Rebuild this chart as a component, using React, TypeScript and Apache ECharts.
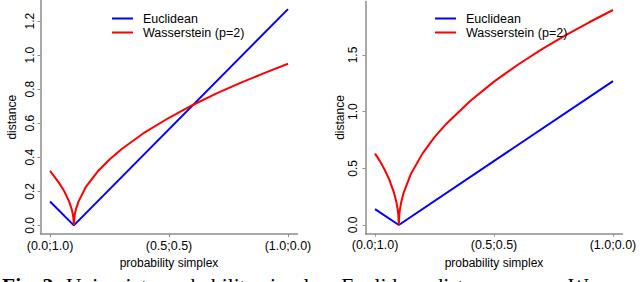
import React, { useEffect, useRef } from "react";
import * as echarts from "echarts";

// probability-simplex positions (first coordinate p of (p;1-p))
const euclidX = [0, 0.1, 1.0];
const euclidLeft = [0.14, 0.0, 1.27];
const euclidRight = [0.14, 0.0, 1.27];

const wassX = [0, 0.02, 0.04, 0.06, 0.08, 0.09, 0.095, 0.098, 0.1, 0.102, 0.105, 0.11, 0.12, 0.15, 0.2, 0.25, 0.3, 0.4, 0.5, 0.6, 0.7, 0.8, 0.9, 1.0];
const wassLeft = [0.32, 0.283, 0.245, 0.2, 0.141, 0.1, 0.071, 0.045, 0.0, 0.045, 0.071, 0.1, 0.141, 0.224, 0.316, 0.387, 0.447, 0.548, 0.632, 0.707, 0.775, 0.837, 0.894, 0.949];
const wassRight = [0.63, 0.566, 0.49, 0.4, 0.283, 0.2, 0.141, 0.089, 0.0, 0.089, 0.141, 0.2, 0.283, 0.447, 0.632, 0.775, 0.894, 1.095, 1.265, 1.414, 1.549, 1.673, 1.789, 1.897];

const xTicks = [0, 0.5, 1];
const xTickLabels = ["(0.0;1.0)", "(0.5;0.5)", "(1.0;0.0)"];
const yTicksLeft = [0, 0.2, 0.4, 0.6, 0.8, 1.0, 1.2];
const yTicksRight = [0, 0.5, 1.0, 1.5];

const seriesNames = ["Euclidean", "Wasserstein (p=2)"];
const caption = "Univariate probability simplex: Euclidean distance versus Wasserstein";

const AXIS_GREY = "#8c8c8c";
const FONT = "Liberation Sans";

function pairs(xs: number[], ys: number[]) {
  return xs.map((x, i) => [x, ys[i]]);
}

function xAxisFor(gridIndex: number) {
  return {
    type: "value",
    gridIndex,
    min: -0.04,
    max: 1.04,
    name: "probability simplex",
    nameLocation: "middle",
    nameGap: 16,
    nameTextStyle: { fontFamily: FONT, fontSize: 12, color: "#000", verticalAlign: "top" },
    axisLine: { show: true, onZero: false, lineStyle: { color: AXIS_GREY, width: 1.5 } },
    axisTick: { show: true, length: 3, customValues: xTicks, lineStyle: { color: AXIS_GREY, width: 1 } },
    axisLabel: {
      show: true,
      customValues: xTicks,
      margin: 5,
      fontFamily: FONT,
      fontSize: 12.5,
      color: "#000",
      formatter: (v: number) => {
        const i = xTicks.findIndex((t) => Math.abs(t - v) < 1e-9);
        return i >= 0 ? xTickLabels[i] : "";
      },
    },
    splitLine: { show: false },
  };
}

function yAxisFor(gridIndex: number, min: number, max: number, ticks: number[], labelMargin: number, nameGap: number) {
  return {
    type: "value",
    gridIndex,
    min,
    max,
    name: "distance",
    nameLocation: "middle",
    nameRotate: 90,
    nameGap,
    nameTextStyle: { fontFamily: FONT, fontSize: 12, color: "#000" },
    axisLine: { show: true, onZero: false, lineStyle: { color: AXIS_GREY, width: 1.5 } },
    axisTick: { show: true, length: 3, customValues: ticks, lineStyle: { color: AXIS_GREY, width: 1 } },
    axisLabel: {
      show: true,
      customValues: ticks,
      rotate: 90,
      margin: labelMargin,
      fontFamily: FONT,
      fontSize: 12,
      color: "#000",
      formatter: (v: number) => v.toFixed(1),
    },
    splitLine: { show: false },
  };
}

function legendAt(left: number) {
  return {
    left,
    top: 7,
    orient: "vertical",
    icon: "rect",
    itemWidth: 21,
    itemHeight: 2,
    itemGap: 1,
    data: seriesNames,
    selectedMode: false,
    textStyle: { fontFamily: FONT, fontSize: 12.5, color: "#000", lineHeight: 12.5, padding: [0, 0, 0, 5] },
  };
}

export default function App() {
  const ref = useRef<HTMLDivElement>(null);
  useEffect(() => {
    if (!ref.current) return;
    const chart = echarts.init(ref.current, undefined, { renderer: "svg" });
    const lineSeries = (name: string, color: string, data: number[][], idx: number) => ({
      type: "line",
      name,
      xAxisIndex: idx,
      yAxisIndex: idx,
      data,
      symbol: "none",
      showSymbol: false,
      lineStyle: { color, width: 2 },
      itemStyle: { color },
      silent: true,
    });
    chart.setOption({
      animation: false,
      backgroundColor: "#fff",
      grid: [
        { left: 40.5, right: 342.5, top: 0.5, bottom: 48 },
        { left: 365.5, right: 17.5, top: 1.4, bottom: 48.4 },
      ],
      xAxis: [xAxisFor(0), xAxisFor(1)],
      yAxis: [
        yAxisFor(0, -0.0508, 1.3208, yTicksLeft, 5, 23),
        yAxisFor(1, -0.0759, 1.973, yTicksRight, 6.5, 19),
      ],
      legend: [legendAt(107), legendAt(430)],
      series: [
        lineSeries(seriesNames[0], "#0000ff", pairs(euclidX, euclidLeft), 0),
        lineSeries(seriesNames[1], "#ff0000", pairs(wassX, wassLeft), 0),
        lineSeries(seriesNames[0], "#0000ff", pairs(euclidX, euclidRight), 1),
        lineSeries(seriesNames[1], "#ff0000", pairs(wassX, wassRight), 1),
      ],
      graphic: [
        {
          type: "text",
          left: 2,
          top: 275,
          style: {
            text: "{b|Fig. 3:} " + caption,
            fontFamily: "Liberation Serif",
            fontSize: 21.5,
            fill: "#000",
            rich: {
              b: { fontFamily: "Liberation Serif", fontSize: 21.5, fontWeight: "bold", fill: "#000" },
            },
          },
        },
      ],
    });
    return () => chart.dispose();
  }, []);
  return (
    <div
      ref={ref}
      style={{ position: "fixed", left: 0, top: 0, width: 640, height: 282, background: "#fff" }}
    />
  );
}
